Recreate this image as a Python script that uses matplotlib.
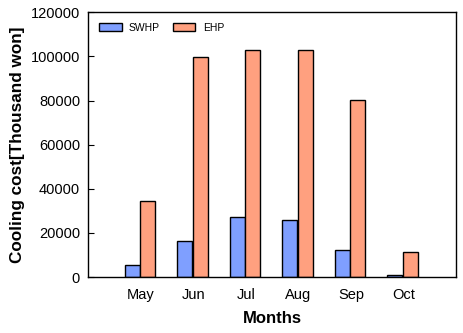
import numpy as np
import matplotlib
matplotlib.use('Agg')
import matplotlib.pyplot as plt

months = ['May', 'Jun', 'Jul', 'Aug', 'Sep', 'Oct']
swhp = [5300, 16200, 27000, 25700, 12100, 800]
ehp = [34300, 99600, 102800, 102800, 80100, 11200]

plt.rcParams['font.family'] = ['Liberation Sans', 'DejaVu Sans']

fig = plt.figure(figsize=(4.63, 3.33), dpi=100)
ax = fig.add_axes([0.191, 0.168, 0.794, 0.795])

x = np.arange(1, len(months) + 1)
w = 0.285
ax.bar(x - 0.165, swhp, w, color='#7f9fff', edgecolor='black', linewidth=1, label='SWHP')
ax.bar(x + 0.13, ehp, w, color='#ffa07f', edgecolor='black', linewidth=1, label='EHP')

ax.set_xlim(0, 7)
ax.set_ylim(0, 120000)
ax.set_xticks(x)
ax.set_xticklabels(months, fontsize=10.5)
ax.set_yticks(np.arange(0, 120001, 20000))
ax.tick_params(axis='y', direction='in', length=4, labelsize=10.5, pad=6)
ax.tick_params(axis='x', length=0, labelsize=10.5, pad=8)
for s in ax.spines.values():
    s.set_linewidth(1)

ax.set_xlabel('Months', fontsize=12, fontweight='bold', labelpad=6)
ax.set_ylabel('Cooling cost[Thousand won]', fontsize=12.3, fontweight='bold', labelpad=4)

ax.legend(loc='upper left', ncol=2, frameon=False, fontsize=7.5, handlelength=2.2,
          handleheight=0.9, columnspacing=1.2, borderaxespad=0.6, handletextpad=0.7)

fig.savefig('out.png', dpi=100)
